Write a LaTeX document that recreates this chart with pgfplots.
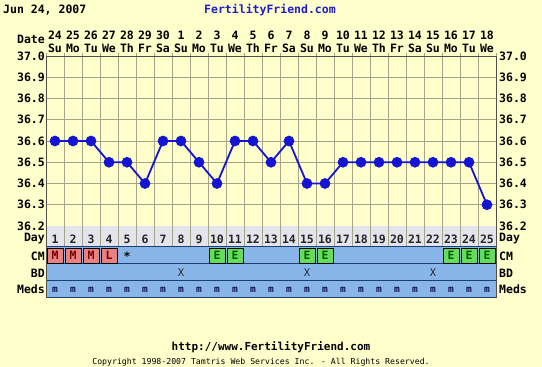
\documentclass[border=0pt]{standalone}
\usepackage{pgfplots}
\pgfplotsset{compat=1.18}
\usepackage{pgfplotstable}
\usepackage{fontspec}
\setmainfont{DejaVu Sans Mono}
\definecolor{bg}{HTML}{FFFFCC}
\definecolor{gridc}{HTML}{A4A488}
\definecolor{framec}{HTML}{505048}
\definecolor{dayrow}{HTML}{E4E4EC}
\definecolor{rowblue}{HTML}{88B6E8}
\definecolor{rowline}{HTML}{203C78}
\definecolor{mred}{HTML}{E88282}
\definecolor{mredtxt}{HTML}{7A0000}
\definecolor{egreen}{HTML}{66DD5A}
\definecolor{egreentxt}{HTML}{005A00}
\definecolor{tblue}{HTML}{1414D2}
\definecolor{ffblue}{HTML}{1E1EC8}
\definecolor{medtxt}{HTML}{101050}

\pgfplotstableread{
day temp
1 36.6
2 36.6
3 36.6
4 36.5
5 36.5
6 36.4
7 36.6
8 36.6
9 36.5
10 36.4
11 36.6
12 36.6
13 36.5
14 36.6
15 36.4
16 36.4
17 36.5
18 36.5
19 36.5
20 36.5
21 36.5
22 36.5
23 36.5
24 36.5
25 36.3
}\temps

\newcommand{\bigf}{\bfseries\fontsize{11.5}{12.5}\selectfont}

\begin{document}
\begin{tikzpicture}[x=1pt,y=1pt]
\useasboundingbox (0,0) rectangle (542,367);
\fill[bg] (0,0) rectangle (542,367);
\node[anchor=west,font=\bigf,inner sep=0pt] at (3,357) {Jun 24, 2007};
\node[font=\bigf,text=ffblue,inner sep=0pt] at (270,357) {FertilityFriend.com};
\node[anchor=east,font=\bigf,inner sep=0pt] at (45,328) {Date};

\begin{axis}[at={(46pt,141pt)}, anchor=south west, scale only axis,
  width=450pt, height=170pt,
  xmin=0.5, xmax=25.5, ymin=36.2, ymax=37.0,
  xtick={1,...,25},
  xticklabels={{24\\Su},{25\\Mo},{26\\Tu},{27\\We},{28\\Th},{29\\Fr},{30\\Sa},{1\\Su},{2\\Mo},{3\\Tu},{4\\We},{5\\Th},{6\\Fr},{7\\Sa},{8\\Su},{9\\Mo},{10\\Tu},{11\\We},{12\\Th},{13\\Fr},{14\\Sa},{15\\Su},{16\\Mo},{17\\Tu},{18\\We}},
  xtick pos=right, xticklabel pos=right,
  xticklabel style={align=center, font=\bigf, inner sep=0pt, yshift=3.5pt},
  minor xtick={0.5,1.5,...,25.5},
  major tick length=0pt, minor tick length=3pt, tick align=outside,
  xmajorgrids=false, xminorgrids=true, ymajorgrids=true,
  grid style={gridc, line width=0.8pt},
  minor grid style={gridc, line width=0.8pt},
  minor tick style={gridc, line width=0.8pt},
  ytick={36.2,36.3,36.4,36.5,36.6,36.7,36.8,36.9,37.0},
  yticklabel style={font=\bigf, inner sep=0pt, xshift=-1pt, /pgf/number format/.cd, fixed, zerofill, precision=1},
  /pgf/number format/assume math mode=true,
  axis line style={framec, line width=0.8pt},
  clip=false,
]
\addplot[tblue, line width=1.8pt, mark=*, mark size=4.4pt, mark options={fill=tblue, draw=tblue}] table[x=day,y=temp]{\temps};
\end{axis}

\begin{axis}[at={(46pt,141pt)}, anchor=south west, scale only axis,
  width=450pt, height=170pt,
  xmin=0.5, xmax=25.5, ymin=36.2, ymax=37.0,
  xtick=\empty, axis line style={draw=none},
  ytick={36.2,36.3,36.4,36.5,36.6,36.7,36.8,36.9,37.0},
  yticklabel pos=right, ytick pos=right, major tick length=0pt,
  yticklabel style={font=\bigf, inner sep=0pt, xshift=3pt, /pgf/number format/.cd, fixed, zerofill, precision=1},
  /pgf/number format/assume math mode=true,
]
\addplot[draw=none] coordinates {(1,36.5)};
\end{axis}

\begin{axis}[at={(46pt,69pt)}, anchor=south west, scale only axis,
  width=450pt, height=72pt,
  xmin=0.5, xmax=25.5, ymin=0, ymax=72,
  hide axis, clip=false,
]
\fill[rowblue] (axis cs:0.5,0) rectangle (axis cs:25.5,51);
\fill[dayrow] (axis cs:0.5,51) rectangle (axis cs:25.5,72);
\pgfplotsinvokeforeach{1.5,2.5,...,24.5}{\draw[gridc, line width=0.8pt] (axis cs:#1,51) -- (axis cs:#1,72);}
% coloured CM cells
\addplot[only marks, mark=square*, mark size=7.6pt, mark options={draw=none, fill=mred, xscale=1.07}] coordinates {(1,42.5) (2,42.5) (3,42.5) (4,42.5)};
\addplot[only marks, mark=square*, mark size=7.6pt, mark options={draw=none, fill=egreen, xscale=1.07}] coordinates {(10,42.5) (11,42.5) (15,42.5) (16,42.5) (23,42.5) (24,42.5) (25,42.5)};
\draw[rowline, line width=1pt] (axis cs:0.5,51) -- (axis cs:25.5,51);
\draw[rowline, line width=1pt] (axis cs:0.5,34) -- (axis cs:25.5,34);
\draw[rowline, line width=1pt] (axis cs:0.5,17) -- (axis cs:25.5,17);
\draw[rowline, line width=1pt] (axis cs:0.5,0) -- (axis cs:25.5,0);
\draw[framec, line width=0.8pt] (axis cs:0.5,0) -- (axis cs:0.5,72);
\draw[framec, line width=0.8pt] (axis cs:25.5,0) -- (axis cs:25.5,72);
% day numbers
\addplot[only marks, mark=none, nodes near coords, point meta=explicit symbolic,
  nodes near coords style={anchor=center, font=\bigf, text=black!85}]
  table[meta=t, row sep=\\]{x y t\\ 1 59 1\\ 2 59 2\\ 3 59 3\\ 4 59 4\\ 5 59 5\\ 6 59 6\\ 7 59 7\\ 8 59 8\\ 9 59 9\\ 10 59 10\\ 11 59 11\\ 12 59 12\\ 13 59 13\\ 14 59 14\\ 15 59 15\\ 16 59 16\\ 17 59 17\\ 18 59 18\\ 19 59 19\\ 20 59 20\\ 21 59 21\\ 22 59 22\\ 23 59 23\\ 24 59 24\\ 25 59 25\\};
% CM letters
\addplot[only marks, mark=none, nodes near coords, point meta=explicit symbolic,
  nodes near coords style={anchor=center, font=\bigf, text=mredtxt}]
  table[meta=t, row sep=\\]{x y t\\ 1 42.5 M\\ 2 42.5 M\\ 3 42.5 M\\ 4 42.5 L\\};
\addplot[only marks, mark=none, nodes near coords, point meta=explicit symbolic,
  nodes near coords style={anchor=center, font=\bigf, text=black}]
  table[meta=t, row sep=\\]{x y t\\ 5 41.5 *\\};
\addplot[only marks, mark=none, nodes near coords, point meta=explicit symbolic,
  nodes near coords style={anchor=center, font=\bigf, text=egreentxt}]
  table[meta=t, row sep=\\]{x y t\\ 10 42.5 E\\ 11 42.5 E\\ 15 42.5 E\\ 16 42.5 E\\ 23 42.5 E\\ 24 42.5 E\\ 25 42.5 E\\};
% BD
\addplot[only marks, mark=none, nodes near coords, point meta=explicit symbolic,
  nodes near coords style={anchor=center, font=\fontsize{10.5}{12}\selectfont, text=black!85}]
  table[meta=t, row sep=\\]{x y t\\ 8 25.5 X\\ 15 25.5 X\\ 22 25.5 X\\};
% Meds
\addplot[only marks, mark=none, nodes near coords, point meta=explicit symbolic,
  nodes near coords style={anchor=center, font=\bfseries\fontsize{9.5}{10}\selectfont, text=medtxt}]
  table[meta=t, row sep=\\]{x y t\\ 1 8.5 m\\ 2 8.5 m\\ 3 8.5 m\\ 4 8.5 m\\ 5 8.5 m\\ 6 8.5 m\\ 7 8.5 m\\ 8 8.5 m\\ 9 8.5 m\\ 10 8.5 m\\ 11 8.5 m\\ 12 8.5 m\\ 13 8.5 m\\ 14 8.5 m\\ 15 8.5 m\\ 16 8.5 m\\ 17 8.5 m\\ 18 8.5 m\\ 19 8.5 m\\ 20 8.5 m\\ 21 8.5 m\\ 22 8.5 m\\ 23 8.5 m\\ 24 8.5 m\\ 25 8.5 m\\};
\end{axis}

\foreach \lab/\yy in {Day/128, CM/111, BD/94, Meds/78}{
  \node[anchor=east,font=\bigf,inner sep=0pt] at (45,\yy) {\lab};
  \node[anchor=west,font=\bigf,inner sep=0pt] at (499,\yy) {\lab};
}
\node[font=\bfseries\fontsize{11}{12}\selectfont,inner sep=0pt] at (271,20) {http://www.FertilityFriend.com};
\node[font=\fontsize{8.2}{9}\selectfont,inner sep=0pt] at (261,5) {Copyright 1998-2007 Tamtris Web Services Inc. - All Rights Reserved.};
\end{tikzpicture}
\end{document}
